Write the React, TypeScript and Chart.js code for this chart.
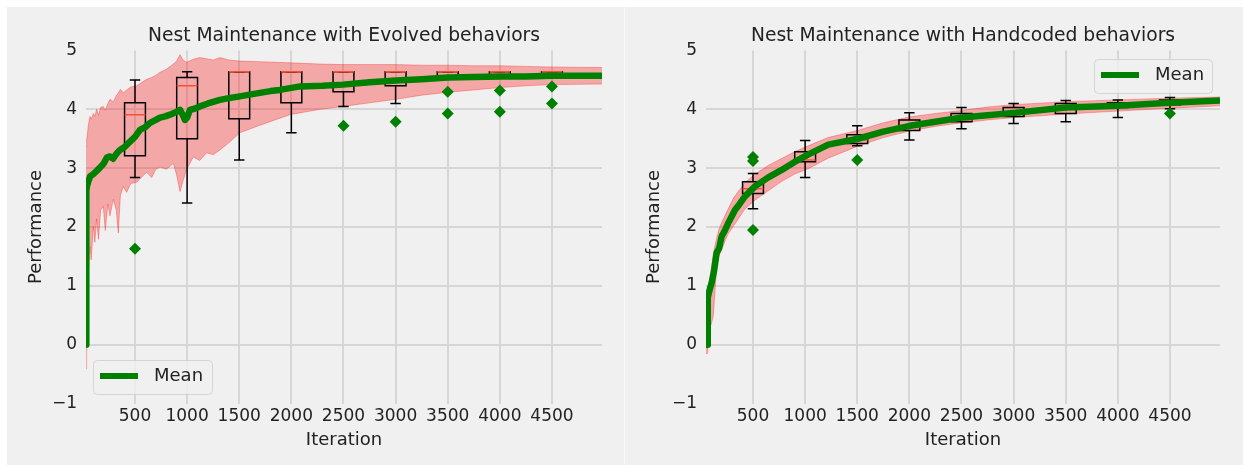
import React, { useEffect, useRef } from "react";
import { Chart, registerables } from "chart.js";

Chart.register(...registerables);

// ---------- shared axes ----------
const iterationTicks = [500, 1000, 1500, 2000, 2500, 3000, 3500, 4000, 4500];
const performanceTicks = [-1, 0, 1, 2, 3, 4, 5];

// ---------- Evolved behaviors ----------
const evoTitle = "Nest Maintenance with Evolved behaviors";
const evoMeanIter = [30, 33, 40, 50, 69, 100, 130, 164, 200, 230, 260, 290, 320, 356, 400, 452, 500, 548, 600, 644, 700, 740, 790, 836, 890, 932, 960, 979, 1000, 1027, 1070, 1123, 1200, 1315, 1400, 1506, 1600, 1698, 1800, 1890, 2083, 2300, 2495, 2750, 3004, 3250, 3503, 3750, 4003, 4250, 4500, 4750, 4980];
const evoMean = [0.0, 2.62, 2.7, 2.76, 2.86, 2.9, 2.95, 3.01, 3.08, 3.18, 3.2, 3.16, 3.24, 3.31, 3.36, 3.45, 3.53, 3.65, 3.7, 3.77, 3.82, 3.86, 3.88, 3.91, 3.95, 3.99, 3.9, 3.82, 3.86, 3.99, 4.01, 4.05, 4.1, 4.16, 4.19, 4.22, 4.25, 4.28, 4.31, 4.33, 4.39, 4.4, 4.42, 4.46, 4.49, 4.51, 4.54, 4.55, 4.56, 4.56, 4.57, 4.57, 4.57];
const evoBandIter = [30, 36, 45, 52, 68, 80, 100, 115, 132, 150, 170, 196, 215, 240, 260, 292, 320, 340, 360, 388, 420, 460, 516, 560, 612, 660, 700, 740, 800, 868, 900, 932, 960, 996, 1060, 1120, 1187, 1250, 1315, 1400, 1506, 1700, 1986, 2275, 2495, 2750, 3004, 3250, 3503, 3750, 4003, 4250, 4500, 4980];
const evoUpper = [3.37, 3.48, 3.6, 3.73, 3.88, 3.83, 3.93, 3.88, 4.0, 3.9, 4.03, 4.05, 3.98, 4.1, 4.17, 4.13, 4.23, 4.28, 4.34, 4.28, 4.33, 4.38, 4.4, 4.45, 4.51, 4.54, 4.58, 4.63, 4.68, 4.77, 4.82, 4.93, 4.84, 4.8, 4.85, 4.88, 4.86, 4.84, 4.88, 4.84, 4.82, 4.81, 4.79, 4.77, 4.76, 4.76, 4.76, 4.75, 4.75, 4.74, 4.74, 4.73, 4.72, 4.71];
const evoLower = [-0.41, 0.5, 1.0, 1.22, 1.67, 1.44, 2.01, 1.74, 2.14, 1.79, 2.29, 2.35, 1.94, 2.39, 2.19, 2.47, 2.29, 1.9, 2.54, 2.69, 2.59, 2.74, 2.76, 2.84, 2.93, 2.84, 2.98, 3.02, 2.98, 3.08, 2.88, 2.6, 2.78, 2.98, 3.19, 3.13, 3.26, 3.23, 3.31, 3.43, 3.6, 3.73, 3.91, 4.0, 4.05, 4.11, 4.17, 4.24, 4.29, 4.33, 4.37, 4.4, 4.42, 4.43];
const evoBoxIter = [500, 1000, 1500, 2000, 2500, 3000, 3500, 4000, 4500];
const evoWhiskerLow = [2.84, 2.41, 3.14, 3.6, 4.05, 4.1, 4.54, 4.56, 4.57];
const evoQ1 = [3.21, 3.5, 3.84, 4.11, 4.3, 4.4, 4.54, 4.56, 4.57];
const evoMedian = [3.91, 4.4, 4.64, 4.64, 4.64, 4.64, 4.64, 4.64, 4.64];
const evoQ3 = [4.11, 4.54, 4.64, 4.64, 4.64, 4.64, 4.64, 4.64, 4.64];
const evoWhiskerHigh = [4.5, 4.64, 4.64, 4.64, 4.64, 4.64, 4.64, 4.64, 4.64];
const evoOutlierIter = [500, 2500, 3000, 3500, 3500, 4000, 4000, 4500, 4500];
const evoOutlierValue = [1.63, 3.72, 3.79, 4.3, 3.93, 4.32, 3.96, 4.39, 4.1];

// ---------- Handcoded behaviors ----------
const hcTitle = "Nest Maintenance with Handcoded behaviors";
const hcMeanIter = [49, 64, 66, 71, 85, 103, 125, 151, 175, 199, 230, 263, 295, 327, 375, 423, 519, 643, 775, 903, 1028, 1222, 1507, 1750, 2005, 2250, 2504, 2750, 3003, 3502, 4001, 4500, 4980];
const hcMean = [0.0, 0.0, 0.8, 0.84, 0.94, 1.05, 1.24, 1.56, 1.64, 1.84, 1.94, 2.07, 2.18, 2.29, 2.4, 2.52, 2.69, 2.84, 2.97, 3.11, 3.23, 3.4, 3.5, 3.62, 3.72, 3.79, 3.86, 3.9, 3.94, 4.03, 4.06, 4.11, 4.15];
const hcBandIter = [49, 60, 66, 72, 85, 100, 120, 135, 150, 171, 200, 260, 315, 420, 520, 650, 780, 900, 1030, 1220, 1500, 1750, 2000, 2250, 2500, 2750, 3000, 3500, 4000, 4500, 4980];
const hcUpper = [0.05, 0.1, 0.9, 1.0, 1.1, 1.3, 1.55, 1.68, 1.8, 1.95, 2.08, 2.3, 2.5, 2.75, 2.9, 3.05, 3.17, 3.28, 3.38, 3.52, 3.64, 3.77, 3.87, 3.93, 3.98, 4.04, 4.08, 4.13, 4.16, 4.19, 4.21];
const hcLower = [-0.15, -0.15, -0.1, 0.3, 0.3, 0.35, 0.5, 0.9, 1.3, 1.5, 1.62, 1.88, 2.02, 2.3, 2.46, 2.62, 2.78, 2.9, 2.99, 3.17, 3.37, 3.52, 3.63, 3.71, 3.77, 3.82, 3.86, 3.92, 3.97, 4.02, 4.06];
const hcBoxIter = [500, 1000, 1500, 2000, 2500, 3000, 3500, 4000, 4500];
const hcWhiskerLow = [2.31, 2.84, 3.38, 3.48, 3.67, 3.76, 3.79, 3.86, 4.01];
const hcQ1 = [2.57, 3.11, 3.42, 3.64, 3.79, 3.88, 3.93, 4.03, 4.08];
const hcMedian = [2.65, 3.14, 3.48, 3.69, 3.82, 3.94, 4.03, 4.08, 4.11];
const hcQ3 = [2.77, 3.28, 3.57, 3.82, 3.93, 4.03, 4.1, 4.11, 4.16];
const hcWhiskerHigh = [2.91, 3.47, 3.72, 3.94, 4.03, 4.1, 4.15, 4.16, 4.2];
const hcOutlierIter = [500, 500, 500, 1500, 4500];
const hcOutlierValue = [3.19, 3.12, 1.95, 3.14, 3.93];

const FONT = "'DejaVu Sans', sans-serif";
const TEXT = "#222222";
const GREEN = "#008000";

type Spec = {
  title: string;
  meanIter: number[]; mean: number[];
  bandIter: number[]; upper: number[]; lower: number[];
  boxIter: number[]; wLow: number[]; q1: number[]; med: number[]; q3: number[]; wHigh: number[];
  outIter: number[]; outVal: number[];
  xMin: number; yAxisWidth: number; width: number;
  legend: { x: number; y: number; w: number; h: number; lx1: number; lx2: number; ly: number; tx: number };
};

function makeChart(canvas: HTMLCanvasElement, s: Spec) {
  const boxHalf = 100;
  const boxPlugin = {
    id: "boxes",
    beforeDatasetDraw(chart: any, args: any) {
      if (args.index !== 2) return;
      const { ctx, chartArea } = chart;
      const xs = chart.scales.x, ys = chart.scales.y;
      ctx.save();
      ctx.beginPath();
      ctx.rect(chartArea.left, chartArea.top, chartArea.right - chartArea.left, chartArea.bottom - chartArea.top);
      ctx.clip();
      for (let i = 0; i < s.boxIter.length; i++) {
        const cx = xs.getPixelForValue(s.boxIter[i]);
        const hw = xs.getPixelForValue(s.boxIter[i] + boxHalf) - cx;
        const yL = ys.getPixelForValue(s.wLow[i]);
        const y1 = ys.getPixelForValue(s.q1[i]);
        const ym = ys.getPixelForValue(s.med[i]);
        const y3 = ys.getPixelForValue(s.q3[i]);
        const yH = ys.getPixelForValue(s.wHigh[i]);
        ctx.strokeStyle = "#000000";
        ctx.lineWidth = 1.5;
        ctx.beginPath();
        ctx.moveTo(cx, y1); ctx.lineTo(cx, yL);
        ctx.moveTo(cx - hw / 2, yL); ctx.lineTo(cx + hw / 2, yL);
        ctx.moveTo(cx, y3); ctx.lineTo(cx, yH);
        ctx.moveTo(cx - hw / 2, yH); ctx.lineTo(cx + hw / 2, yH);
        ctx.stroke();
        ctx.beginPath();
        ctx.rect(cx - hw, y3, 2 * hw, y1 - y3);
        ctx.stroke();
        ctx.strokeStyle = "#fc4f30";
        ctx.beginPath();
        ctx.moveTo(cx - hw, ym); ctx.lineTo(cx + hw, ym);
        ctx.stroke();
      }
      ctx.restore();
    },
  };
  const legendPlugin = {
    id: "meanLegend",
    afterDraw(chart: any) {
      const { ctx } = chart;
      const L = s.legend;
      ctx.save();
      ctx.beginPath();
      (ctx as any).roundRect(L.x + 0.5, L.y + 0.5, L.w, L.h, 4);
      ctx.fillStyle = "rgba(240,240,240,0.8)";
      ctx.fill();
      ctx.strokeStyle = "rgba(204,204,204,0.8)";
      ctx.lineWidth = 1;
      ctx.stroke();
      ctx.strokeStyle = GREEN;
      ctx.lineWidth = 6;
      ctx.beginPath();
      ctx.moveTo(L.lx1, L.ly); ctx.lineTo(L.lx2, L.ly);
      ctx.stroke();
      ctx.fillStyle = TEXT;
      ctx.font = `18px ${FONT}`;
      ctx.textBaseline = "middle";
      ctx.textAlign = "left";
      ctx.fillText(chart.data.datasets[2].label, L.tx, L.ly);
      ctx.restore();
    },
  };
  const gridColor = (c: any) =>
    c.tick && (c.tick.value === -1 || c.tick.value === 5) ? "rgba(0,0,0,0)" : "#d6d6d6";

  return new Chart(canvas, {
    type: "line",
    data: {
      datasets: [
        {
          label: "upper",
          data: s.bandIter.map((x, i) => ({ x, y: s.upper[i] })),
          borderColor: "rgba(255,0,0,0.3)",
          backgroundColor: "rgba(255,0,0,0.3)",
          borderWidth: 1,
          pointRadius: 0,
          fill: "+1",
          tension: 0,
          order: 3,
        },
        {
          label: "lower",
          data: s.bandIter.map((x, i) => ({ x, y: s.lower[i] })),
          borderColor: "rgba(255,0,0,0.3)",
          borderWidth: 1,
          pointRadius: 0,
          fill: false,
          tension: 0,
          order: 2,
        },
        {
          label: "Mean",
          data: s.meanIter.map((x, i) => ({ x, y: s.mean[i] })),
          borderColor: GREEN,
          borderWidth: 6.5,
          pointRadius: 0,
          fill: false,
          tension: 0,
          borderJoinStyle: "round",
          order: 1,
        },
        {
          type: "scatter",
          label: "outliers",
          data: s.outIter.map((x, i) => ({ x, y: s.outVal[i] })),
          pointStyle: "rectRot",
          pointRadius: 6,
          pointBackgroundColor: GREEN,
          pointBorderColor: GREEN,
          pointBorderWidth: 0,
          showLine: false,
          order: 0,
        } as any,
      ],
    },
    options: {
      animation: false,
      responsive: false,
      events: [],
      layout: { padding: { left: 0, right: s.width - 595, top: 0, bottom: 0 } },
      scales: {
        x: {
          type: "linear",
          min: s.xMin,
          max: 4980,
          afterBuildTicks: (sc: any) => { sc.ticks = iterationTicks.map((v) => ({ value: v })); },
          afterFit: (sc: any) => { sc.height = 61.5; },
          border: { display: false },
          grid: { color: gridColor, lineWidth: 2, drawTicks: false },
          ticks: { color: TEXT, font: { family: FONT, size: 17 }, padding: 3, maxRotation: 0, autoSkip: false, callback: (v: any) => String(v) },
          title: { display: true, text: "Iteration", color: TEXT, font: { family: FONT, size: 18 }, padding: { top: 0, bottom: 14.2 } },
        },
        y: {
          type: "linear",
          min: -1,
          max: 5,
          afterBuildTicks: (sc: any) => { sc.ticks = performanceTicks.map((v) => ({ value: v })); },
          afterFit: (sc: any) => { sc.width = s.yAxisWidth; },
          border: { display: false },
          grid: { color: gridColor, lineWidth: 2, drawTicks: false },
          ticks: { color: TEXT, font: { family: FONT, size: 17 }, padding: 9, callback: (v: any) => (v < 0 ? "\u2212" + Math.abs(v) : String(v)) },
          title: { display: true, text: "Performance", color: TEXT, font: { family: FONT, size: 18 }, padding: { top: 18.2, bottom: 0 } },
        },
      },
      plugins: {
        legend: { display: false },
        tooltip: { enabled: false },
        title: {
          display: true,
          text: s.title,
          fullSize: false,
          color: TEXT,
          font: { family: FONT, size: 18.7, weight: "normal" },
          padding: { top: 17.8, bottom: 3.26 },
        },
      },
    } as any,
    plugins: [boxPlugin, legendPlugin],
  });
}

function Panel({ spec, left }: { spec: Spec; left: number }) {
  const ref = useRef<HTMLCanvasElement>(null);
  useEffect(() => {
    if (!ref.current) return;
    const chart = makeChart(ref.current, spec);
    return () => chart.destroy();
  }, []);
  return (
    <canvas
      ref={ref}
      width={spec.width}
      height={458}
      style={{ position: "absolute", left, top: 0, width: spec.width, height: 458, display: "block" }}
    />
  );
}

const evoSpec: Spec = {
  title: evoTitle,
  meanIter: evoMeanIter, mean: evoMean,
  bandIter: evoBandIter, upper: evoUpper, lower: evoLower,
  boxIter: evoBoxIter, wLow: evoWhiskerLow, q1: evoQ1, med: evoMedian, q3: evoQ3, wHigh: evoWhiskerHigh,
  outIter: evoOutlierIter, outVal: evoOutlierValue,
  xMin: 30, yAxisWidth: 79, width: 617,
  legend: { x: 86, y: 353, w: 119, h: 34, lx1: 93, lx2: 131, ly: 369, tx: 147 },
};

const hcSpec: Spec = {
  title: hcTitle,
  meanIter: hcMeanIter, mean: hcMean,
  bandIter: hcBandIter, upper: hcUpper, lower: hcLower,
  boxIter: hcBoxIter, wLow: hcWhiskerLow, q1: hcQ1, med: hcMedian, q3: hcQ3, wHigh: hcWhiskerHigh,
  outIter: hcOutlierIter, outVal: hcOutlierValue,
  xMin: 49, yAxisWidth: 81, width: 618,
  legend: { x: 469, y: 52, w: 118, h: 34, lx1: 476, lx2: 514, ly: 68, tx: 530 },
};

export default function App() {
  useEffect(() => {
    document.body.style.margin = "0";
    document.body.style.background = "#ffffff";
  }, []);
  return (
    <div style={{ position: "fixed", left: 7, top: 7, width: 1236, height: 458, background: "#f0f0f0" }}>
      <Panel spec={evoSpec} left={0} />
      <div style={{ position: "absolute", left: 617, top: 0, width: 1, height: 458, background: "#fafafa" }} />
      <Panel spec={hcSpec} left={618} />
    </div>
  );
}
